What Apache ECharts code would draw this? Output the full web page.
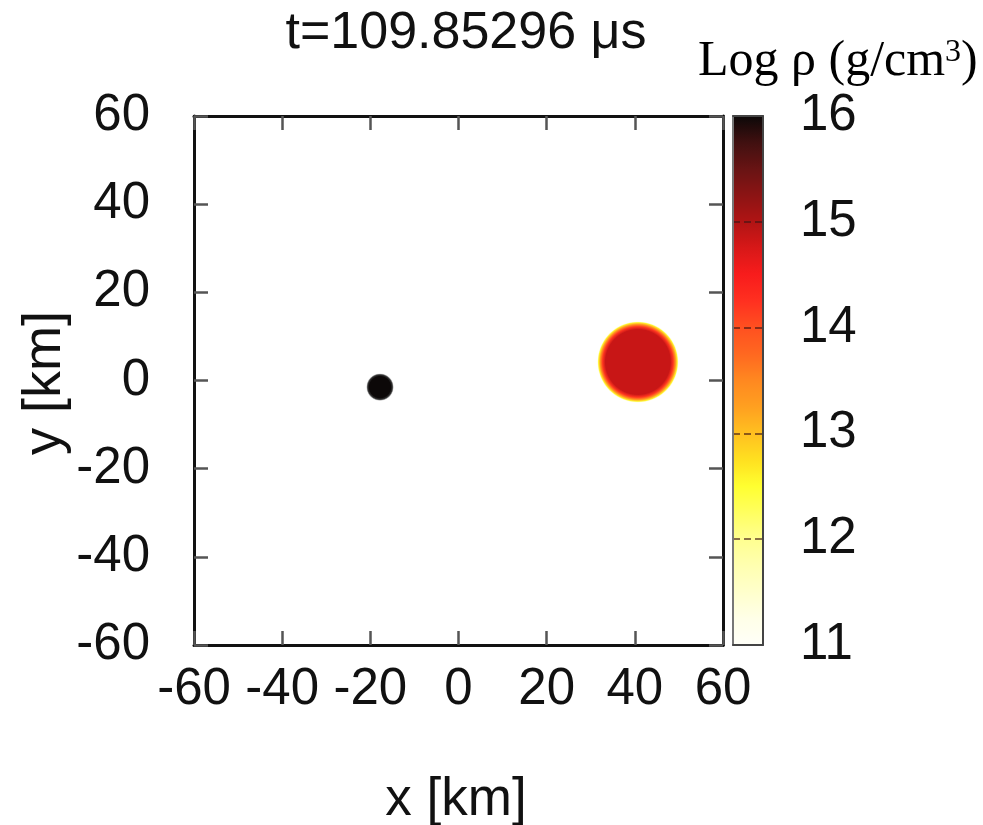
<!DOCTYPE html>
<html>
<head>
<meta charset="utf-8">
<script src="https://cdn.jsdelivr.net/npm/echarts@6/dist/echarts.min.js"></script>
<style>html,body{margin:0;padding:0;background:#fff}#c{width:983px;height:825px}</style>
</head>
<body>
<div id="c"></div>
<script>
// ---- data ----
const titleText = 't=109.85296 μs';
const xTicks = [-60, -40, -20, 0, 20, 40, 60];
const yTicks = [-60, -40, -20, 0, 20, 40, 60];
const cbTicks = [11, 12, 13, 14, 15, 16];
// blobs: centre (km), radius (km), core log density, edge log density (null = soft fade)
const blobX = [-17.8, 40.7];
const blobY = [-1.5, 4.2];
const blobRadius = [3.1, 9.2];
const blobLogRho = [16, 14.85];
const blobEdgeLogRho = [null, 12.6];
// colour palette, evenly spaced from 11 to 16
const palette = ['#fffff8','#ffffe8','#ffffcc','#ffffb0','#ffff90','#ffff60','#ffff30','#ffe020','#ffc020','#ffa020','#ff8820','#ff6820','#ff5020','#ff3020','#f81c1c','#d81818','#b01414','#8c1414','#681414','#401010','#0c0808'];

function hex2rgb(h){return [parseInt(h.substr(1,2),16),parseInt(h.substr(3,2),16),parseInt(h.substr(5,2),16)];}
function colorAt(v){
  const t = Math.max(0, Math.min(1, (v - 11) / 5)) * (palette.length - 1);
  const i = Math.min(palette.length - 2, Math.floor(t)); const f = t - i;
  const a = hex2rgb(palette[i]), b = hex2rgb(palette[i+1]);
  return 'rgb(' + a.map((x,k)=>Math.round(x + (b[k]-x)*f)).join(',') + ')';
}

const blobData = blobX.map((x, i) => [x, blobY[i], blobRadius[i], blobLogRho[i]]);

const chart = echarts.init(document.getElementById('c'), null, {renderer: 'canvas'});
const FONT = 'Liberation Sans, Arial, sans-serif';
const SERIF = 'Liberation Serif, Times New Roman, serif';
const axisLineStyle = {color: '#111', width: 3};
const tickStyle = {show: true, inside: true, length: 14, lineStyle: {color: '#555', width: 2.5}};

chart.setOption({
  animation: false,
  backgroundColor: '#fff',
  grid: [
    {left: 194, top: 116, width: 529, height: 529, show: false},
    {left: 733, top: 116, width: 30, height: 529, show: false}
  ],
  xAxis: [
    {gridIndex: 0, type: 'value', position: 'bottom', min: -60, max: 60, interval: 20,
     axisLine: {show: true, onZero: false, lineStyle: axisLineStyle}, axisTick: tickStyle,
     axisLabel: {fontSize: 51, margin: 19, color: '#111', fontFamily: FONT}, splitLine: {show: false}},
    {gridIndex: 0, type: 'value', position: 'top', min: -60, max: 60, interval: 20,
     axisLine: {show: true, onZero: false, lineStyle: axisLineStyle}, axisTick: tickStyle,
     axisLabel: {show: false}, splitLine: {show: false}},
    {gridIndex: 1, type: 'value', position: 'bottom', min: 0, max: 1, z: 10,
     axisLine: {show: true, onZero: false, lineStyle: {color: '#444', width: 2}}, axisTick: {show: false},
     axisLabel: {show: false}, splitLine: {show: false}},
    {gridIndex: 1, type: 'value', position: 'top', min: 0, max: 1, z: 10,
     axisLine: {show: true, onZero: false, lineStyle: {color: '#444', width: 2}}, axisTick: {show: false},
     axisLabel: {show: false}, splitLine: {show: false}}
  ],
  yAxis: [
    {gridIndex: 0, type: 'value', position: 'left', min: -60, max: 60, interval: 20,
     axisLine: {show: true, onZero: false, lineStyle: axisLineStyle}, axisTick: tickStyle,
     axisLabel: {fontSize: 51, margin: 44, color: '#111', fontFamily: FONT}, splitLine: {show: false}},
    {gridIndex: 0, type: 'value', position: 'right', min: -60, max: 60, interval: 20,
     axisLine: {show: true, onZero: false, lineStyle: axisLineStyle}, axisTick: tickStyle,
     axisLabel: {show: false}, splitLine: {show: false}},
    {gridIndex: 1, type: 'value', position: 'left', min: 11, max: 16, interval: 1, z: 10,
     axisLine: {show: true, onZero: false, lineStyle: {color: '#777', width: 2}}, axisTick: {show: false},
     axisLabel: {show: false},
     splitLine: {show: true, lineStyle: {color: 'rgba(60,20,20,0.6)', width: 2, type: [7, 4]}}},
    {gridIndex: 1, type: 'value', position: 'right', min: 11, max: 16, interval: 1, z: 10,
     axisLine: {show: true, onZero: false, lineStyle: {color: '#444', width: 2}}, axisTick: {show: false},
     axisLabel: {fontSize: 51, margin: 37, color: '#111', fontFamily: FONT}, splitLine: {show: false}}
  ],
  visualMap: {
    type: 'continuous', min: 11, max: 16, orient: 'vertical',
    left: 733, top: 116, itemWidth: 30, itemHeight: 529, padding: 0,
    calculable: false, hoverLink: false, text: null, seriesIndex: 0, dimension: 3,
    inRange: {color: palette}
  },
  series: [{
    type: 'custom', xAxisIndex: 0, yAxisIndex: 0, data: blobData, clip: true,
    renderItem: function (params, api) {
      const c = api.coord([api.value(0), api.value(1)]);
      const r = api.size([api.value(2), 0])[0];
      const core = colorAt(api.value(3));
      const edge = blobEdgeLogRho[params.dataIndex];
      let stops;
      if (edge === null) {
        stops = [{offset: 0, color: core}, {offset: 0.78, color: core}, {offset: 0.9, color: 'rgba(0,0,0,0.8)'}, {offset: 1, color: 'rgba(0,0,0,0.1)'}];
      } else {
        stops = [{offset: 0, color: core}, {offset: 0.8, color: core},
                 {offset: 0.87, color: colorAt(14.2)}, {offset: 0.93, color: colorAt(13.3)},
                 {offset: 0.97, color: colorAt(12.6)}, {offset: 1, color: 'rgba(255,255,190,0.4)'}];
      }
      return {
        type: 'circle',
        shape: {cx: c[0], cy: c[1], r: r},
        style: {fill: {type: 'radial', x: 0.5, y: 0.5, r: 0.5, colorStops: stops}}
      };
    }
  }],
  graphic: [
    {type: 'text', style: {text: titleText, x: 466, y: 34, font: '52px ' + FONT, fill: '#111', textAlign: 'center', textVerticalAlign: 'middle'}},
    {type: 'text', style: {x: 698, y: 62, text: '{a|Log ρ (g/cm}{s|3}{a|)}', textVerticalAlign: 'middle',
      rich: {a: {fontSize: 50, fontFamily: SERIF, fill: '#000', verticalAlign: 'bottom'},
             s: {fontSize: 32, fontFamily: SERIF, fill: '#000', verticalAlign: 'top', padding: [0, 0, 18, 0]}}}},
    {type: 'text', style: {x: 456, y: 800, text: 'x [km]', font: '53px ' + FONT, fill: '#111', textAlign: 'center', textVerticalAlign: 'middle'}},
    {type: 'text', x: 45, y: 383, rotation: Math.PI / 2, style: {x: 0, y: 0, text: 'y [km]', font: '54px ' + FONT, fill: '#111', textAlign: 'center', textVerticalAlign: 'middle'}}
  ]
});
</script>
</body>
</html>
